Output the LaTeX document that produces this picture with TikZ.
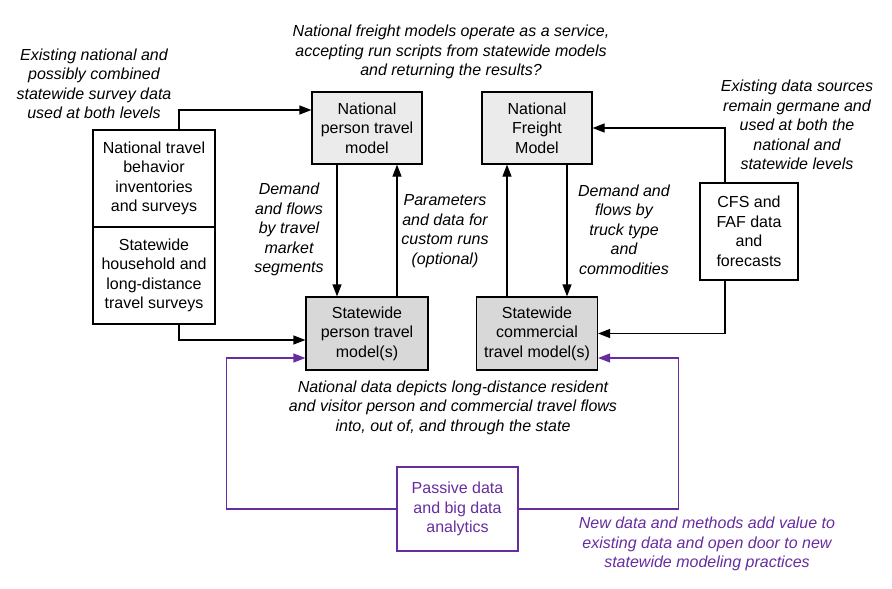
\documentclass[tikz,border=0pt]{standalone}
\usepackage{fontspec}
\setmainfont{Liberation Sans}
\usetikzlibrary{arrows.meta}
\definecolor{pdpurple}{RGB}{102,45,160}
\definecolor{natgray}{RGB}{235,235,235}
\definecolor{stgray}{RGB}{216,216,216}

\begin{document}
\begin{tikzpicture}[x=1pt, y=-1pt,
  every node/.style={font=\fontsize{16}{19.5}\selectfont, align=center, inner sep=0pt},
  box/.style={draw, line width=1.2pt},
  note/.style={font=\fontsize{16}{19.5}\selectfont\itshape},
  link/.style={line width=1.2pt, -{Triangle[length=12pt,width=9pt]}},
  plink/.style={link, draw=pdpurple}]
  \useasboundingbox (0,0) rectangle (892,589);
  \node[box, fill=natgray, minimum width=110, minimum height=72] (natperson) at (367,128) {National\\person travel\\model};
  \node[box, fill=natgray, minimum width=110, minimum height=72] (freight) at (537,128) {National\\Freight\\Model};
  \node[box, fill=stgray, minimum width=122, minimum height=73] (stperson) at (367,333.5) {Statewide\\person travel\\model(s)};
  \node[box, fill=stgray, minimum width=121, minimum height=73] (stcomm) at (537,333.5) {Statewide\\commercial\\travel model(s)};
  \node[box, minimum width=122, minimum height=97] (nhts) at (154,178.5) {National travel\\behavior\\inventories\\and surveys};
  \node[box, minimum width=122, minimum height=97] (survey) at (154,275.5) {Statewide\\household and\\long-distance\\travel surveys};
  \node[box, minimum width=98, minimum height=97] (cfs) at (749,231.5) {CFS and\\FAF data\\and\\forecasts};
  \node[box, draw=pdpurple, text=pdpurple, minimum width=121, minimum height=84] (passive) at (457.5,509) {Passive data\\and big data\\analytics};
  \node[note] (topnote) at (451,52) {National freight models operate as a service,\\accepting run scripts from statewide models\\and returning the results?};
  \node[note] (surveynote) at (94,84) {Existing national and\\possibly combined\\statewide survey data\\used at both levels};
  \node[note] (demandp) at (289,229.5) {Demand\\and flows\\by travel\\market\\segments};
  \node[note] (params) at (445,231) {Parameters\\and data for\\custom runs\\(optional)};
  \node[note] (demandf) at (624,229.5) {Demand and\\flows by\\truck type\\and\\commodities};
  \node[note] (sourcenote) at (797,125) {Existing data sources\\remain germane and\\used at both the\\national and\\statewide levels};
  \node[note] (flownote) at (453,407.5) {National data depicts long-distance resident\\and visitor person and commercial travel flows\\into, out of, and through the state};
  \node[note, text=pdpurple] (newnote) at (707,544) {New data and methods add value to\\existing data and open door to new\\statewide modeling practices};
  \draw[link] ([xshift=25pt]nhts.north) |- ([yshift=18pt]natperson.west);
  \draw[link] ([xshift=25pt]survey.south) |- ([yshift=-6.5pt]stperson.west);
  \draw[link] ([xshift=-30pt]natperson.south) -- ([xshift=-30pt]stperson.north);
  \draw[link] ([xshift=30pt]stperson.north) -- ([xshift=30pt]natperson.south);
  \draw[link] ([xshift=-30pt]stcomm.north) -- ([xshift=-30pt]freight.south);
  \draw[link] ([xshift=30pt]freight.south) -- ([xshift=30pt]stcomm.north);
  \draw[link] ([xshift=-24pt]cfs.north) |- (freight.east);
  \draw[link] ([xshift=-24pt]cfs.south) |- (stcomm.east);
  \draw[plink] (passive.west) -- ++(-170,0) |- ([yshift=-24.5pt]stperson.west);
  \draw[plink] (passive.east) -- ++(160,0) |- ([yshift=-24.5pt]stcomm.east);
\end{tikzpicture}
\end{document}
